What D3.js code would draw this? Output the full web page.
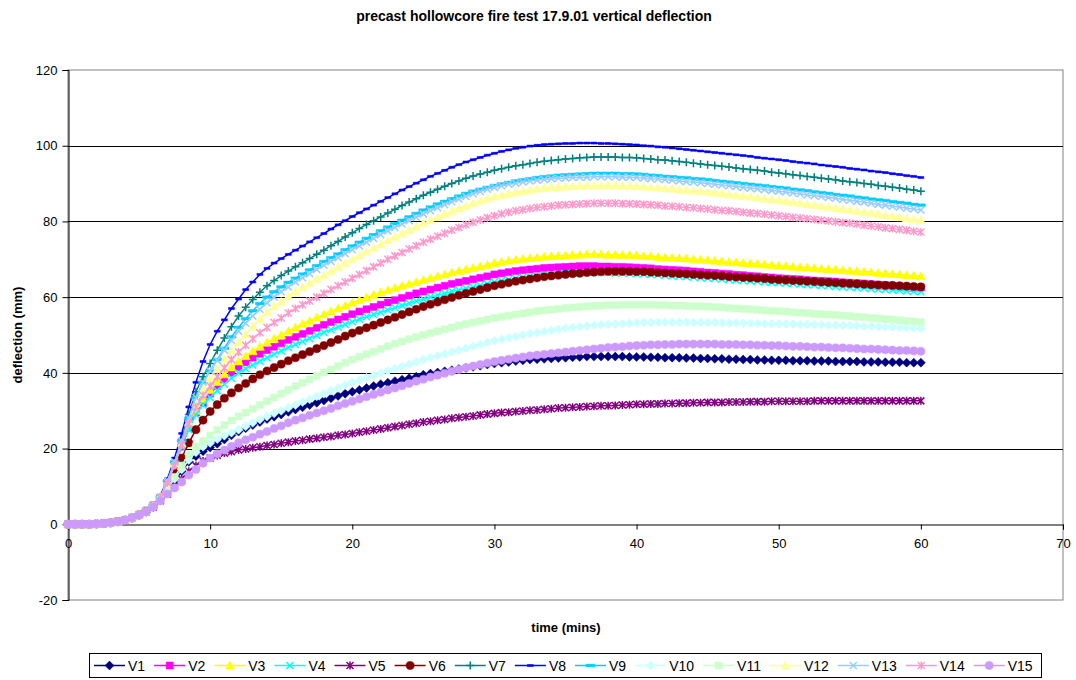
<!DOCTYPE html>
<html>
<head>
<meta charset="utf-8">
<script src="https://cdn.jsdelivr.net/npm/d3@7"></script>
<style>
  body { margin: 0; background: #fff; }
  text { font-family: Arial, "Liberation Sans", sans-serif; }
</style>
</head>
<body>
<svg id="chart" width="1076" height="680"></svg>
<script>
// time (mins), one reading every half minute
const times = [0,0.5,1,1.5,2,2.5,3,3.5,4,4.5,5,5.5,6,6.5,7,7.5,8,8.5,9,9.5,10,
  10.5,11,11.5,12,12.5,13,13.5,14,14.5,15,15.5,16,16.5,17,17.5,18,18.5,19,19.5,20,
  20.5,21,21.5,22,22.5,23,23.5,24,24.5,25,25.5,26,26.5,27,27.5,28,28.5,29,29.5,30,
  30.5,31,31.5,32,32.5,33,33.5,34,34.5,35,35.5,36,36.5,37,37.5,38,38.5,39,39.5,40,
  40.5,41,41.5,42,42.5,43,43.5,44,44.5,45,45.5,46,46.5,47,47.5,48,48.5,49,49.5,50,
  50.5,51,51.5,52,52.5,53,53.5,54,54.5,55,55.5,56,56.5,57,57.5,58,58.5,59,59.5,60];

const V1 = [0,0,0,0,0.1,0.2,0.4,0.7,1.1,1.7,2.4,3.3,4.6,6.4,
  9,11.5,14,16.5,18,19.3,20.3,
  21.3,22.4,23.5,24.5,25.4,26.2,27,27.8,28.4,29,29.7,30.3,30.9,31.5,32.1,32.7,33.3,33.9,34.5,35,
  35.5,36,36.5,37,37.4,37.8,38.2,38.6,39,39.5,39.8,40.1,40.4,40.7,41,41.3,41.6,41.9,42.2,42.5,
  42.7,42.9,43.1,43.3,43.5,43.6,43.7,43.8,43.9,44,44.1,44.2,44.3,44.3,44.3,44.3,44.3,44.3,44.2,44.2,
  44.2,44.1,44.1,44,44,44,43.9,43.9,43.8,43.8,43.7,43.7,43.6,43.6,43.5,43.5,43.4,43.4,43.3,43.3,
  43.3,43.2,43.2,43.2,43.1,43.1,43.1,43,43,43,43,42.9,42.9,42.9,42.8,42.8,42.8,42.7,42.7,42.7];
const V2 = [0,0,0,0,0.1,0.2,0.4,0.7,1.1,1.7,2.5,3.6,5,7,
  11,15.5,20.5,25.5,29.5,32,34.5,
  36.5,38.3,40,41.5,42.8,44,45,46,46.9,47.8,48.7,49.5,50.3,51.1,51.9,52.7,53.4,54.1,54.8,55.5,
  56.2,56.8,57.4,58,58.6,59.2,59.8,60.4,61,61.5,62,62.5,63,63.5,63.9,64.3,64.7,65.1,65.5,66,
  66.3,66.6,66.9,67.1,67.3,67.5,67.7,67.8,67.9,68,68.1,68.2,68.2,68.2,68.1,68.1,68,68,67.9,67.8,
  67.7,67.6,67.4,67.3,67.2,67.1,67,66.8,66.7,66.5,66.4,66.2,66.1,65.9,65.8,65.6,65.5,65.3,65.2,65,
  64.9,64.8,64.7,64.5,64.4,64.3,64.2,64.1,63.9,63.8,63.7,63.6,63.4,63.3,63.2,63,62.9,62.8,62.6,62.5];
const V3 = [0,0,0,0,0.1,0.2,0.4,0.7,1.1,1.7,2.5,3.6,5,7,
  11,15.5,21,26,30,33,35.5,
  37.6,39.6,41.4,43,44.4,45.7,46.9,48,49,50,51,52,52.9,53.7,54.6,55.4,56.2,57,57.7,58.5,
  59.2,59.9,60.6,61.2,61.8,62.4,63,63.5,64,64.5,65,65.5,66,66.5,66.9,67.3,67.7,68.1,68.5,69,
  69.3,69.6,69.9,70.1,70.3,70.5,70.7,70.8,70.9,71,71.1,71.2,71.3,71.3,71.3,71.2,71.2,71.1,71.1,71,
  70.9,70.8,70.6,70.5,70.4,70.3,70.2,70,69.9,69.8,69.6,69.5,69.3,69.2,69,68.9,68.8,68.6,68.5,68.3,
  68.2,68,67.9,67.8,67.6,67.5,67.4,67.3,67.1,67,66.9,66.7,66.6,66.4,66.3,66.1,66,65.8,65.7,65.5];
const V4 = [0,0,0,0,0.1,0.2,0.4,0.7,1.1,1.7,2.5,3.6,5,7,
  11,15.5,20.5,25,29,31.5,33.5,
  35.3,37,38.6,40,41.1,42.1,43.1,44,44.9,45.8,46.7,47.5,48.3,49.1,49.9,50.7,51.4,52.1,52.8,53.5,
  54.2,54.8,55.4,56,56.6,57.2,57.8,58.4,59,59.5,60,60.5,61,61.5,61.9,62.3,62.7,63.1,63.5,64,
  64.3,64.6,64.9,65.2,65.4,65.6,65.8,66,66.1,66.2,66.3,66.4,66.5,66.5,66.5,66.5,66.4,66.4,66.3,66.2,
  66.1,66,65.9,65.8,65.6,65.5,65.4,65.3,65.1,65,64.9,64.8,64.6,64.5,64.4,64.3,64.2,64,63.9,63.8,
  63.7,63.6,63.4,63.3,63.2,63.1,63,62.8,62.7,62.6,62.5,62.4,62.2,62.1,62,61.9,61.8,61.6,61.5,61.4];
const V5 = [0,0,0,0,0.1,0.2,0.4,0.7,1.1,1.7,2.4,3.3,4.5,6.2,
  8,10,12,14,15.5,16.7,17.5,
  18.2,18.8,19.2,19.6,19.9,20.2,20.5,20.8,21.1,21.4,21.7,22,22.2,22.5,22.7,23,23.2,23.5,23.7,24,
  24.3,24.6,24.9,25.2,25.5,25.8,26.1,26.4,26.7,27,27.2,27.5,27.7,28,28.2,28.4,28.6,28.9,29.1,29.3,
  29.5,29.6,29.8,29.9,30.1,30.2,30.4,30.5,30.7,30.8,30.9,31,31.1,31.2,31.3,31.3,31.4,31.5,31.6,31.7,
  31.7,31.8,31.8,31.9,31.9,32,32,32.1,32.1,32.2,32.2,32.2,32.3,32.3,32.3,32.4,32.4,32.4,32.5,32.5,
  32.5,32.5,32.5,32.5,32.6,32.6,32.6,32.6,32.6,32.6,32.6,32.6,32.6,32.6,32.6,32.6,32.6,32.6,32.6,32.6];
const V6 = [0,0,0,0,0.1,0.2,0.4,0.7,1.1,1.7,2.5,3.5,4.8,6.8,
  10,13.5,17.5,21.5,25,27.5,29.8,
  31.6,33.3,34.7,36,37.2,38.4,39.5,40.5,41.4,42.3,43.2,44,44.8,45.6,46.4,47.2,48,48.8,49.7,50.5,
  51.2,51.9,52.6,53.3,54,54.7,55.4,56.1,56.8,57.5,58.1,58.7,59.3,59.9,60.5,61,61.5,62,62.5,63,
  63.4,63.8,64.2,64.5,64.8,65.1,65.4,65.6,65.8,66,66.2,66.3,66.5,66.6,66.7,66.8,66.8,66.8,66.8,66.7,
  66.7,66.6,66.5,66.4,66.3,66.2,66.1,66,65.9,65.8,65.7,65.6,65.4,65.3,65.2,65.1,65,64.9,64.7,64.6,
  64.5,64.4,64.3,64.2,64.1,64,63.9,63.8,63.7,63.6,63.5,63.4,63.3,63.2,63.1,63.1,63,62.9,62.8,62.7];
const V7 = [0,0,0,0,0.1,0.2,0.4,0.7,1.1,1.7,2.5,3.6,5.1,7.3,
  11.5,16.5,22.5,29,35,39,42.5,
  46,49.2,52.2,55,57.3,59.4,61.3,63,64.4,65.7,66.9,68,69.1,70.2,71.3,72.4,73.6,74.7,75.9,77,
  78.1,79.2,80.2,81.2,82.2,83.2,84.2,85.1,86,86.9,87.7,88.5,89.3,90,90.7,91.4,92,92.5,93,93.5,
  93.9,94.3,94.7,95,95.3,95.6,95.9,96.1,96.3,96.5,96.6,96.8,96.9,97,97,97,97,96.9,96.9,96.8,
  96.6,96.5,96.3,96.2,96,95.8,95.6,95.4,95.2,95,94.8,94.6,94.4,94.1,93.9,93.7,93.5,93.3,93,92.8,
  92.6,92.3,92.1,91.9,91.7,91.4,91.2,91,90.7,90.5,90.3,90,89.8,89.5,89.3,89,88.8,88.5,88.3,88];
const V8 = [0,0,0,0,0.1,0.2,0.4,0.7,1.1,1.7,2.5,3.6,5.2,7.5,
  12,17.5,24,31,37.5,43,47.5,
  51,54,57,59.5,62,64,66,67.6,69,70.2,71.3,72.4,73.5,74.6,75.7,76.8,78,79.1,80.2,81.3,
  82.3,83.3,84.3,85.3,86.3,87.3,88.3,89.2,90.1,91,91.9,92.7,93.5,94.3,95,95.7,96.3,96.9,97.5,98,
  98.5,98.9,99.3,99.6,99.9,100.1,100.3,100.4,100.5,100.6,100.6,100.7,100.7,100.7,100.6,100.6,100.5,100.4,100.3,100.2,
  100,99.9,99.7,99.6,99.4,99.2,99,98.8,98.6,98.4,98.2,98,97.8,97.6,97.4,97.2,96.9,96.7,96.5,96.3,
  96.1,95.8,95.6,95.4,95.2,94.9,94.7,94.5,94.3,94,93.8,93.6,93.3,93.1,92.9,92.6,92.4,92.1,91.9,91.6];
const V9 = [0,0,0,0,0.1,0.2,0.4,0.7,1.1,1.7,2.5,3.6,5.1,7.2,
  11.5,16.5,22,28,33.5,37.5,40.5,
  43.5,46.5,49.5,52,54.3,56.4,58.3,60,61.4,62.7,63.9,65,66.1,67.2,68.3,69.4,70.4,71.4,72.5,73.5,
  74.5,75.5,76.5,77.5,78.5,79.4,80.3,81.2,82.1,83,83.8,84.6,85.3,86,86.7,87.4,88,88.5,89,89.5,
  89.9,90.3,90.7,91,91.3,91.6,91.8,92,92.2,92.3,92.4,92.5,92.6,92.7,92.7,92.7,92.7,92.6,92.6,92.5,
  92.4,92.2,92.1,91.9,91.8,91.6,91.5,91.3,91.2,91,90.8,90.6,90.4,90.2,90,89.8,89.6,89.4,89.2,89,
  88.8,88.5,88.3,88.1,87.8,87.6,87.4,87.1,86.9,86.7,86.4,86.2,85.9,85.7,85.5,85.2,85,84.8,84.5,84.3];
const V10 = [0,0,0,0,0.1,0.2,0.4,0.7,1.1,1.7,2.4,3.4,4.7,6.5,
  9.5,12,14.5,17,19,20.5,21.5,
  22.5,23.4,24.2,25,25.9,26.8,27.7,28.5,29.3,30,30.8,31.5,32.3,33,33.8,34.5,35.3,36,36.8,37.5,
  38.1,38.7,39.3,39.9,40.5,41.1,41.7,42.3,42.9,43.5,44,44.5,45,45.5,46,46.5,47,47.5,48,48.5,
  48.9,49.3,49.6,50,50.3,50.6,50.9,51.2,51.5,51.8,52,52.2,52.4,52.6,52.7,52.8,52.9,53,53.1,53.2,
  53.3,53.3,53.4,53.4,53.4,53.4,53.4,53.3,53.3,53.3,53.3,53.2,53.2,53.2,53.1,53.1,53.1,53,53,53,
  52.9,52.9,52.8,52.8,52.7,52.7,52.6,52.6,52.5,52.5,52.4,52.3,52.3,52.2,52.1,52.1,52,51.9,51.8,51.7];
const V11 = [0,0,0,0,0.1,0.2,0.4,0.7,1.1,1.7,2.4,3.4,4.7,6.6,
  9.5,12.5,15.5,18.5,20.5,22,23.5,
  24.9,26.2,27.4,28.5,29.5,30.5,31.5,32.5,33.5,34.5,35.5,36.5,37.4,38.3,39.2,40.1,40.9,41.8,42.7,43.5,
  44.2,44.9,45.6,46.3,47,47.7,48.3,48.9,49.5,50,50.5,51,51.5,52,52.5,52.9,53.3,53.7,54.1,54.5,
  54.8,55.1,55.4,55.7,56,56.3,56.5,56.7,56.9,57.1,57.3,57.4,57.6,57.7,57.8,57.9,57.9,58,58,58,
  58,58,57.9,57.9,57.8,57.8,57.7,57.6,57.6,57.5,57.4,57.3,57.1,57,56.9,56.8,56.7,56.5,56.4,56.3,
  56.2,56,55.9,55.8,55.6,55.5,55.4,55.3,55.1,55,54.8,54.7,54.5,54.4,54.2,54.1,53.9,53.7,53.6,53.4];
const V12 = [0,0,0,0,0.1,0.2,0.4,0.7,1.1,1.7,2.5,3.6,5,7.1,
  11,16,21.5,27,32,35.5,38.5,
  41,43.5,45.8,48,50.1,52.2,54.2,56,57.5,58.8,60.2,61.5,62.6,63.7,64.8,65.8,66.9,67.9,69,70,
  71,72,73,74,75,75.9,76.8,77.7,78.6,79.5,80.3,81.1,81.9,82.7,83.4,84.1,84.8,85.4,86,86.5,
  86.9,87.3,87.7,88,88.3,88.6,88.8,89,89.1,89.2,89.3,89.4,89.5,89.5,89.5,89.5,89.5,89.4,89.4,89.3,
  89.2,89,88.9,88.7,88.6,88.4,88.3,88.1,88,87.8,87.6,87.4,87.1,86.9,86.7,86.5,86.3,86,85.8,85.6,
  85.3,85.1,84.8,84.5,84.3,84,83.8,83.5,83.3,83,82.7,82.4,82.2,81.9,81.6,81.4,81.1,80.8,80.6,80.3];
const V13 = [0,0,0,0,0.1,0.2,0.4,0.7,1.1,1.7,2.5,3.6,5.1,7.2,
  11.5,16.5,22,28,33.5,37.5,40.5,
  43.3,46,48.6,51,53.1,55,56.8,58.5,60,61.4,62.7,64,65.1,66.2,67.3,68.4,69.4,70.4,71.5,72.5,
  73.5,74.5,75.5,76.5,77.5,78.4,79.3,80.2,81.1,82,82.8,83.6,84.4,85.2,85.9,86.6,87.3,87.9,88.5,89,
  89.4,89.8,90.1,90.4,90.7,90.9,91.1,91.3,91.4,91.5,91.6,91.7,91.7,91.8,91.8,91.8,91.8,91.7,91.7,91.6,
  91.5,91.3,91.2,91,90.9,90.7,90.5,90.4,90.2,90,89.8,89.6,89.4,89.2,89,88.8,88.6,88.4,88.2,88,
  87.8,87.5,87.3,87,86.8,86.6,86.3,86.1,85.8,85.6,85.3,85.1,84.8,84.5,84.3,84,83.8,83.5,83.3,83];
const V14 = [0,0,0,0,0.1,0.2,0.4,0.7,1.1,1.7,2.5,3.6,5,7,
  11,15.5,21,26.5,31,34,36.5,
  39,41.3,43.5,45.5,47.3,49,50.6,52,53.3,54.5,55.8,57,58,59,60,61,62,63,64,65,
  66,67,68,69,70,70.9,71.8,72.7,73.6,74.5,75.3,76.1,76.9,77.7,78.4,79.1,79.8,80.4,81,81.5,
  82,82.4,82.8,83.1,83.4,83.7,83.9,84.1,84.3,84.4,84.5,84.6,84.7,84.8,84.8,84.8,84.8,84.7,84.7,84.6,
  84.5,84.4,84.3,84.1,84,83.9,83.7,83.6,83.4,83.3,83.1,82.9,82.8,82.6,82.4,82.2,82.1,81.9,81.7,81.5,
  81.3,81.1,80.9,80.7,80.5,80.3,80.1,79.9,79.7,79.5,79.3,79,78.8,78.6,78.3,78.1,77.9,77.7,77.4,77.2];
const V15 = [0,0,0,0,0.1,0.2,0.4,0.7,1.1,1.7,2.4,3.3,4.5,6.2,
  8,9.6,11.2,13,14.5,16.1,17.5,
  18.6,19.6,20.6,21.5,22.3,23,23.8,24.5,25.3,26,26.8,27.5,28.1,28.8,29.4,30,30.6,31.3,31.9,32.5,
  33.1,33.7,34.3,34.9,35.5,36,36.6,37.2,37.8,38.3,38.9,39.4,39.9,40.4,40.9,41.4,41.8,42.2,42.6,43,
  43.3,43.6,43.9,44.2,44.5,44.7,44.9,45.1,45.3,45.5,45.7,45.9,46.1,46.3,46.5,46.7,46.8,46.9,47.1,47.2,
  47.3,47.4,47.4,47.5,47.5,47.6,47.6,47.6,47.6,47.6,47.6,47.5,47.5,47.5,47.4,47.4,47.3,47.3,47.2,47.2,
  47.1,47,47,46.9,46.8,46.8,46.7,46.6,46.6,46.5,46.4,46.3,46.3,46.2,46.1,46,45.9,45.9,45.8,45.7];

const seriesNames = ["V1","V2","V3","V4","V5","V6","V7","V8","V9","V10","V11","V12","V13","V14","V15"];
const seriesValues = [V1,V2,V3,V4,V5,V6,V7,V8,V9,V10,V11,V12,V13,V14,V15];
const seriesColors = ["#000080","#FF00FF","#FFFF00","#00FFFF","#800080","#800000","#008080","#0000FF",
  "#00CCFF","#CCFFFF","#CCFFCC","#FFFF99","#99CCFF","#FF99CC","#CC99FF"];
const seriesMarkers = ["diamond","square","triangle","x","star","circle","plus","dash",
  "longdash","diamond","square","triangle","x","star","circle"];

const xTicks = [0,10,20,30,40,50,60,70];
const yTicks = [-20,0,20,40,60,80,100,120];

// marker shapes centred on 0,0 ; filled = true means fill, else stroke only
const markerShapes = {
  diamond:  { d: "M0,-4.5L4.5,0L0,4.5L-4.5,0Z", filled: true },
  square:   { d: "M-3.5,-3.5H3.5V3.5H-3.5Z", filled: true },
  triangle: { d: "M0,-4.5L4.5,3.5L-4.5,3.5Z", filled: true },
  circle:   { d: d3.symbol(d3.symbolCircle, 52)(), filled: true },
  x:        { d: "M-3.5,-3.5L3.5,3.5M3.5,-3.5L-3.5,3.5", filled: false },
  star:     { d: "M-3.5,-3.5L3.5,3.5M3.5,-3.5L-3.5,3.5M0,-4L0,4", filled: false },
  plus:     { d: "M-4,0H4M0,-4V4", filled: false },
  dash:     { d: "M-3,-1H3V1H-3Z", filled: true },
  longdash: { d: "M-4.5,-1.3H4.5V1.3H-4.5Z", filled: true }
};

const svg = d3.select("#chart");
const plot = { left: 68, right: 1063, top: 70, bottom: 600 };

const x = d3.scaleLinear().domain([0, 70]).range([plot.left, plot.right]);
const y = d3.scaleLinear().domain([-20, 120]).range([plot.bottom, plot.top]);

// title
svg.append("text")
  .attr("x", 534).attr("y", 21)
  .attr("text-anchor", "middle")
  .style("font-size", "14px").style("font-weight", "bold")
  .text("precast hollowcore fire test 17.9.01 vertical deflection");

// plot area border (grey) and gridlines (black)
svg.append("rect")
  .attr("x", plot.left).attr("y", plot.top)
  .attr("width", plot.right - plot.left).attr("height", plot.bottom - plot.top)
  .attr("fill", "none").attr("stroke", "#808080").attr("stroke-width", 1);

svg.append("g")
  .selectAll("line")
  .data(yTicks.filter(d => d > -20 && d < 120 && d !== 0))
  .enter().append("line")
  .attr("x1", plot.left).attr("x2", plot.right)
  .attr("y1", d => Math.round(y(d)) + 0.5).attr("y2", d => Math.round(y(d)) + 0.5)
  .attr("stroke", "#000").attr("stroke-width", 1);

// y axis (plain hyphen for negatives, like the original)
const yAxis = svg.append("g")
  .attr("transform", "translate(" + (plot.left + 0.5) + ",0)")
  .call(d3.axisLeft(y).tickValues(yTicks).tickFormat(d => String(d)).tickSize(6).tickPadding(5));
yAxis.select(".domain").attr("stroke", "#000");
yAxis.selectAll("text").style("font-size", "13px").style("font-family", "Arial, 'Liberation Sans', sans-serif");

// x axis sits on the zero line
const xAxis = svg.append("g")
  .attr("transform", "translate(0," + (Math.round(y(0)) + 0.5) + ")")
  .call(d3.axisBottom(x).tickValues(xTicks).tickFormat(d => String(d)).tickSize(5).tickPadding(9));
xAxis.select(".domain").attr("stroke", "#000");
xAxis.selectAll("text").style("font-size", "13px").style("font-family", "Arial, 'Liberation Sans', sans-serif");

// axis titles
svg.append("text")
  .attr("transform", "translate(22," + ((plot.top + plot.bottom) / 2) + ") rotate(-90)")
  .attr("text-anchor", "middle")
  .style("font-size", "13px").style("font-weight", "bold")
  .text("deflection (mm)");

svg.append("text")
  .attr("x", 566).attr("y", 632)
  .attr("text-anchor", "middle")
  .style("font-size", "13px").style("font-weight", "bold")
  .text("time (mins)");

// series
const line = d3.line()
  .x((d, i) => x(times[i]))
  .y(d => y(d));

const seriesG = svg.append("g");
seriesValues.forEach((vals, s) => {
  const col = seriesColors[s];
  const shape = markerShapes[seriesMarkers[s]];
  const g = seriesG.append("g");
  g.append("path")
    .datum(vals)
    .attr("d", line)
    .attr("fill", "none")
    .attr("stroke", col)
    .attr("stroke-width", 1.5);
  g.selectAll("path.mk")
    .data(vals)
    .enter().append("path")
    .attr("class", "mk")
    .attr("transform", (d, i) => "translate(" + x(times[i]) + "," + y(d) + ")")
    .attr("d", shape.d)
    .attr("fill", shape.filled ? col : "none")
    .attr("stroke", col)
    .attr("stroke-width", shape.filled ? 0.5 : 1.5);
});

// legend
const legend = svg.append("g");
legend.append("rect")
  .attr("x", 89.5).attr("y", 653.5)
  .attr("width", 952).attr("height", 24)
  .attr("fill", "#fff").attr("stroke", "#000").attr("stroke-width", 1);

let lx = 94;
seriesNames.forEach((name, s) => {
  const col = seriesColors[s];
  const shape = markerShapes[seriesMarkers[s]];
  const item = legend.append("g");
  item.append("line")
    .attr("x1", lx).attr("x2", lx + 31)
    .attr("y1", 665.5).attr("y2", 665.5)
    .attr("stroke", col).attr("stroke-width", 1.5);
  item.append("path")
    .attr("transform", "translate(" + (lx + 15.5) + ",665.5)")
    .attr("d", shape.d)
    .attr("fill", shape.filled ? col : "none")
    .attr("stroke", col)
    .attr("stroke-width", shape.filled ? 0.5 : 1.5);
  const t = item.append("text")
    .attr("x", lx + 34).attr("y", 670.5)
    .style("font-size", "14px")
    .text(name);
  lx = lx + 34 + t.node().getComputedTextLength() + 9;
});
</script>
</body>
</html>
